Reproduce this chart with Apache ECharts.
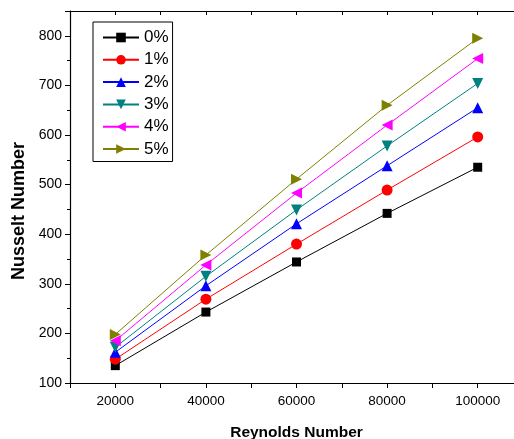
<!DOCTYPE html>
<html><head><meta charset="utf-8">
<script src="https://cdn.jsdelivr.net/npm/echarts@6/dist/echarts.min.js"></script>
<style>html,body{margin:0;padding:0;background:#fff}#c{width:514px;height:439px}</style>
</head><body><div id="c"></div>
<script>
const reynolds = [20000, 40000, 60000, 80000, 100000];
const seriesNames = ['0%', '1%', '2%', '3%', '4%', '5%'];
const nu0 = [135, 243, 344, 442, 535];
const nu1 = [148, 269, 380, 489, 596];
const nu2 = [162, 296, 421, 538, 655];
const nu3 = [172, 315, 449, 578, 704];
const nu4 = [185, 338, 483, 620, 754];
const nu5 = [198, 358, 511, 660, 795];
const allValues = [nu0, nu1, nu2, nu3, nu4, nu5];
const colors = ['#000000', '#ff0000', '#0000ff', '#008080', '#ff00ff', '#808000'];
const symbols = ['rect', 'circle', 'triangle', 'triangle', 'triangle', 'triangle'];
const rotations = [0, 0, 0, 180, 90, -90];
const sizes = [9, 11, 11, 11, 11, 11];

const chart = echarts.init(document.getElementById('c'), null, {renderer: 'canvas'});
const font = 'Arial, "Liberation Sans", sans-serif';
const series = seriesNames.map((n, i) => ({
  name: n, type: 'line',
  data: reynolds.map((x, j) => [x, allValues[i][j]]),
  symbol: symbols[i], symbolRotate: rotations[i], symbolSize: sizes[i],
  itemStyle: {color: colors[i]},
  lineStyle: {color: colors[i], width: 1},
  animation: false
}));
chart.setOption({
  animation: false,
  grid: {left: 70, top: 11, width: 453, bottom: 56, containLabel: false, outerBoundsMode: 'none'},
  legend: {
    orient: 'vertical', left: 93, top: 22,
    padding: [7, 4, 4, 9], itemGap: 5.3,
    itemWidth: 36, itemHeight: 12,
    borderColor: '#000', borderWidth: 1,
    textStyle: {fontFamily: font, fontSize: 17, color: '#000'},
    data: seriesNames
  },
  xAxis: [{
    type: 'value', min: 10000, max: 110000, interval: 10000,
    name: 'Reynolds Number', nameLocation: 'middle', nameGap: 42,
    nameTextStyle: {fontFamily: font, fontSize: 15.5, fontWeight: 'bold', color: '#000'},
    axisLine: {lineStyle: {color: '#000', width: 1.2}},
    axisTick: {show: true, length: 5, lineStyle: {color: '#000'}},
    axisLabel: {fontFamily: font, fontSize: 13.5, color: '#000', margin: 11,
      formatter: v => (v % 20000 === 0 && v >= 20000 && v <= 100000) ? String(v) : ''},
    splitLine: {show: false}
  }, {
    type: 'value', position: 'top', min: 10000, max: 110000, interval: 10000,
    axisLine: {show: true, onZero: false, lineStyle: {color: '#000', width: 1.2}},
    axisTick: {show: true, inside: true, length: 4, lineStyle: {color: '#000'}},
    axisLabel: {show: false}, splitLine: {show: false}
  }],
  yAxis: {
    type: 'value', min: 100, max: 850, interval: 100,
    name: 'Nusselt Number', nameLocation: 'middle', nameGap: 41,
    nameTextStyle: {fontFamily: font, fontSize: 18, fontWeight: 'bold', color: '#000', padding: [0, 28, 0, 0]},
    axisLine: {show: true, lineStyle: {color: '#000', width: 1.2}},
    axisTick: {show: true, length: 5, lineStyle: {color: '#000'}},
    minorTick: {show: true, splitNumber: 2, length: 3, lineStyle: {color: '#000'}},
    axisLabel: {fontFamily: font, fontSize: 14, color: '#000', margin: 8, showMaxLabel: false},
    splitLine: {show: false}
  },
  series: series
});
</script></body></html>
